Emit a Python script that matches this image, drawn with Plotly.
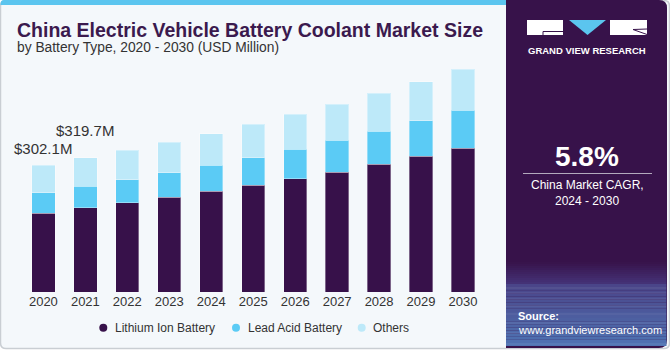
import plotly.graph_objects as go

W, H = 670, 350

years = ["2020", "2021", "2022", "2023", "2024", "2025", "2026", "2027", "2028", "2029", "2030"]
lithium_ion = [188.3, 200.3, 212.9, 225.8, 240.1, 254.4, 270.1, 286.1, 304.4, 323.5, 343.3]
lead_acid = [48.4, 51.7, 54.8, 58.6, 62.7, 65.8, 70.8, 76.3, 79.4, 84.9, 90.6]
others = [65.4, 67.7, 70.8, 72.5, 74.6, 79.8, 82.7, 85.8, 89.9, 93.0, 97.0]
series_names = ["Lithium Ion Battery", "Lead Acid Battery", "Others"]
series_colors = ["#37114a", "#5bcbf5", "#bde9f9"]
label_years = ["2020", "2021"]
label_texts = ["$302.1M", "$319.7M"]
label_shifts = [17, 27]

BG = "#f4f8fb"
TEXT = "#333333"


def px(x):
    return x / W


def py(y):
    return 1 - y / H


fig = go.Figure()
for name, vals, col in zip(series_names, [lithium_ion, lead_acid, others], series_colors):
    fig.add_trace(go.Bar(
        x=years, y=vals, name=name, marker_color=col,
        marker_line=dict(color="rgba(255,255,255,0.35)", width=1),
        showlegend=False, hoverinfo="x+y+name",
    ))

totals = [a + b + c for a, b, c in zip(lithium_ion, lead_acid, others)]

annotations = []
for yr, txt, sh in zip(label_years, label_texts, label_shifts):
    i = years.index(yr)
    annotations.append(dict(
        x=i, y=totals[i], xref="x", yref="y", text=txt, showarrow=False,
        yanchor="middle", yshift=sh, font=dict(size=15, color=TEXT, family="Liberation Sans, Arial"),
    ))

# Title & subtitle
annotations.append(dict(x=px(15), y=py(30), xref="paper", yref="paper", xanchor="left", yanchor="middle",
                        text="<b>China Electric Vehicle Battery Coolant Market Size</b>", showarrow=False,
                        font=dict(size=19.5, color="#3b1a4e", family="Liberation Sans, Arial")))
annotations.append(dict(x=px(15), y=py(48), xref="paper", yref="paper", xanchor="left", yanchor="middle",
                        text="by Battery Type, 2020 - 2030 (USD Million)", showarrow=False,
                        font=dict(size=13.8, color=TEXT, family="Liberation Sans, Arial")))

# Right panel texts
cx = 587
annotations.append(dict(x=px(cx), y=py(51), xref="paper", yref="paper", xanchor="center", yanchor="middle",
                        text="<b>GRAND VIEW RESEARCH</b>", showarrow=False,
                        font=dict(size=9.5, color="white", family="Liberation Sans, Arial")))
annotations.append(dict(x=px(cx), y=py(156), xref="paper", yref="paper", xanchor="center", yanchor="middle",
                        text="<b>5.8%</b>", showarrow=False,
                        font=dict(size=28, color="white", family="Liberation Sans, Arial")))
annotations.append(dict(x=px(cx), y=py(185), xref="paper", yref="paper", xanchor="center", yanchor="middle",
                        text="China Market CAGR,", showarrow=False,
                        font=dict(size=12, color="white", family="Liberation Sans, Arial")))
annotations.append(dict(x=px(cx), y=py(201), xref="paper", yref="paper", xanchor="center", yanchor="middle",
                        text="2024 - 2030", showarrow=False,
                        font=dict(size=12, color="white", family="Liberation Sans, Arial")))
annotations.append(dict(x=px(516), y=py(316), xref="paper", yref="paper", xanchor="left", yanchor="middle",
                        text="<b>Source:</b>", showarrow=False,
                        font=dict(size=11, color="white", family="Liberation Sans, Arial")))
annotations.append(dict(x=px(516), y=py(329.5), xref="paper", yref="paper", xanchor="left", yanchor="middle",
                        text="www.grandviewresearch.com", showarrow=False,
                        font=dict(size=11, color="white", family="Liberation Sans, Arial")))

# Legend (manual, circle markers)
legend_marker_x = [103.3, 236, 361.7]
for name, col, mx in zip(series_names, series_colors, legend_marker_x):
    annotations.append(dict(x=px(mx + 9.5), y=py(327.7), xref="paper", yref="paper", xanchor="left",
                            yanchor="middle", text=name, showarrow=False,
                            font=dict(size=12, color=TEXT, family="Liberation Sans, Arial")))

shapes = []
# outer background frame
shapes.append(dict(type="path", xref="paper", yref="paper",
                   path=f"M {px(6)} {py(0.5)} L {px(664)} {py(0.5)} Q {px(669.5)} {py(0.5)} {px(669.5)} {py(6)} "
                        f"L {px(669.5)} {py(343)} Q {px(669.5)} {py(348.5)} {px(664)} {py(348.5)} "
                        f"L {px(6)} {py(348.5)} Q {px(0.5)} {py(348.5)} {px(0.5)} {py(343)} "
                        f"L {px(0.5)} {py(6)} Q {px(0.5)} {py(0.5)} {px(6)} {py(0.5)} Z",
                   fillcolor=BG, line=dict(color="#c9ced3", width=1.5), layer="below"))
# top stripe
shapes.append(dict(type="path", xref="paper", yref="paper",
                   path=f"M {px(0.5)} {py(5)} L {px(0.5)} {py(4)} Q {px(0.5)} {py(0)} {px(4)} {py(0)} "
                        f"L {px(507)} {py(0)} L {px(507)} {py(5)} Z",
                   fillcolor="#5bc5ef", line=dict(width=0), layer="below"))
# right panel
L, R, T, B, r = 506, 667, 0, 348, 8
shapes.append(dict(type="path", xref="paper", yref="paper",
                   path=f"M {px(L)} {py(T)} L {px(R - r)} {py(T)} Q {px(R)} {py(T)} {px(R)} {py(T + r)} "
                        f"L {px(R)} {py(B - r)} Q {px(R)} {py(B)} {px(R - r)} {py(B)} L {px(L)} {py(B)} Z",
                   fillcolor="#37124a", line=dict(width=0), layer="below"))


# gradient bands at bottom of panel
def lerp(c1, c2, t):
    a = [int(c1[i:i + 2], 16) for i in (1, 3, 5)]
    b = [int(c2[i:i + 2], 16) for i in (1, 3, 5)]
    return "#" + "".join(f"{round(a[k] + (b[k] - a[k]) * t):02x}" for k in range(3))


y0g, y1g, y2g = 262, 284, 346
steps = 11
for k in range(steps):
    ya = y0g + (y1g - y0g) * k / steps
    yb = y0g + (y1g - y0g) * (k + 1) / steps
    shapes.append(dict(type="rect", xref="paper", yref="paper", x0=px(L), x1=px(R - 0.5), y0=py(yb), y1=py(ya),
                       fillcolor=lerp("#37124a", "#453378", (k + 0.5) / steps), line=dict(width=0), layer="below"))
steps = 20
for k in range(steps):
    ya = y1g + (y2g - y1g) * k / steps
    yb = y1g + (y2g - y1g) * (k + 1) / steps
    shapes.append(dict(type="rect", xref="paper", yref="paper", x0=px(L), x1=px(R - 0.5), y0=py(yb), y1=py(ya),
                       fillcolor=lerp("#4a4488", "#4f74b4", (k + 0.5) / steps), line=dict(width=0), layer="below"))
# faint grid texture lines
for gy in [288, 293, 299, 306, 314, 323, 333, 344]:
    shapes.append(dict(type="line", xref="paper", yref="paper", x0=px(L), x1=px(R - 0.5), y0=py(gy), y1=py(gy),
                       line=dict(color="rgba(255,255,255,0.10)", width=1), layer="below"))

# logo pieces
shapes.append(dict(type="rect", xref="paper", yref="paper", x0=px(527), x1=px(563), y0=py(35), y1=py(20),
                   fillcolor="white", line=dict(width=0)))
shapes.append(dict(type="path", xref="paper", yref="paper",
                   path=f"M {px(569)} {py(20)} L {px(606)} {py(20)} L {px(587.5)} {py(35)} Z",
                   fillcolor="#5bc5ef", line=dict(width=0)))
shapes.append(dict(type="rect", xref="paper", yref="paper", x0=px(610), x1=px(647), y0=py(35), y1=py(20),
                   fillcolor="white", line=dict(width=0)))
shapes.append(dict(type="path", xref="paper", yref="paper",
                   path=f"M {px(563)} {py(31.5)} L {px(543)} {py(31.5)} L {px(543)} {py(35)}",
                   line=dict(color="#37124a", width=1)))
shapes.append(dict(type="path", xref="paper", yref="paper",
                   path=f"M {px(647)} {py(29)} L {px(633)} {py(29.5)} L {px(647)} {py(34.5)}",
                   line=dict(color="#37124a", width=1)))
# divider line in panel
shapes.append(dict(type="line", xref="paper", yref="paper", x0=px(523), x1=px(652), y0=py(173.5), y1=py(173.5),
                   line=dict(color="#b3a9bd", width=1)))
# legend circles
for col, mx in zip(series_colors, legend_marker_x):
    shapes.append(dict(type="circle", xref="paper", yref="paper", x0=px(mx - 4), x1=px(mx + 4),
                       y0=py(327.7 + 4), y1=py(327.7 - 4), fillcolor=col, line=dict(width=0)))

plot_left, plot_right, plot_top, plot_bottom = 22.4, 484, 60, 292
m_per_px = 302.1 / (292 - 165.3)

fig.update_layout(
    width=W, height=H, autosize=False,
    margin=dict(l=0, r=0, t=0, b=0, pad=0),
    paper_bgcolor="rgba(0,0,0,0)", plot_bgcolor="rgba(0,0,0,0)",
    barmode="stack", bargap=0.444,
    showlegend=False,
    xaxis=dict(type="category", range=[-0.5, len(years) - 0.5], domain=[px(plot_left), px(plot_right)],
               showgrid=False, zeroline=False,
               showline=False, ticks="", tickfont=dict(size=13, color=TEXT, family="Liberation Sans, Arial"),
               anchor="y", fixedrange=True),
    yaxis=dict(domain=[py(plot_bottom), py(plot_top)], range=[0, (plot_bottom - plot_top) * m_per_px],
               showgrid=False, zeroline=False, showline=False, showticklabels=False, fixedrange=True),
    annotations=annotations, shapes=shapes,
    font=dict(family="Liberation Sans, Arial"),
)

fig.write_html("out.html", include_plotlyjs=True, config={"displayModeBar": False})
